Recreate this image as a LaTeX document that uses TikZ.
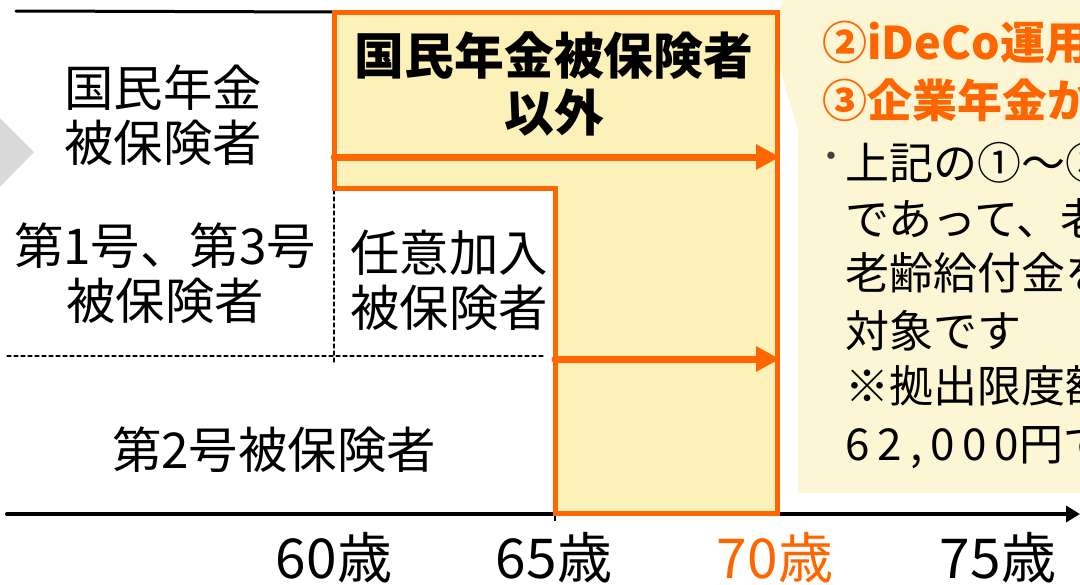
\documentclass[tikz,border=0pt]{standalone}
\usepackage{fontspec}
\setmainfont{Noto Sans CJK JP}
\usepackage{tkz-euclide}
\usetikzlibrary{arrows.meta,calc}
\definecolor{LineClr}{RGB}{255,102,0}
\definecolor{ShapeClr}{RGB}{252,241,185}
\definecolor{NoteClr}{RGB}{253,246,212}
\definecolor{MarkClr}{RGB}{217,217,217}
\definecolor{DotClr}{RGB}{64,64,64}

\begin{document}
\begin{tikzpicture}[x=.5pt,y=-.5pt,
  lbl/.style={font=\fontsize{24.7}{27.5}\selectfont,align=center,inner sep=0pt},
  agelbl/.style={font=\fontsize{27.5}{30}\selectfont,inner sep=0pt},
  notelbl/.style={font=\fontsize{22}{28}\selectfont,anchor=base west,inner sep=0pt},
  notehead/.style={notelbl,font=\fontsize{22.5}{28}\selectfont\bfseries,text=LineClr}]
\useasboundingbox (0,0) rectangle (1080,584);
\clip (0,0) rectangle (1080,584);

\tkzDefPoints{334/12/A,777/12/B,777/513/C,555/513/D,555/188/E,334/188/F}
\tkzDefPoints{334/157/G,780/157/H,555/359/I,780/359/J}
\tkzDefPoints{7/514/O,1080/514/X,16/11/T,7/356/K,545/356/L,334/190/M,334/363/N}
\tkzDefPoints{798/-60/P1,772/43/P2,798/130/P3,798/493/P4,1090/493/P5,1090/-60/P6}
\tkzDefPoints{-5/113/Q1,34/152/Q2,-5/192/Q3}

\tkzFillPolygon[fill=NoteClr](P1,P2,P3,P4,P5,P6)
\tkzFillPolygon[fill=MarkClr](Q1,Q2,Q3)
\tkzFillPolygon[fill=ShapeClr](A,B,C,D,E,F)

\tkzDrawSegments[line width=0.6pt,color=black,dash pattern=on 2pt off 1.5pt](K,L M,N)
\tkzDrawSegments[line width=1.5pt,color=black](T,A)
\tkzDrawSegments[line width=2pt,color=black,-{Triangle[length=7pt,width=8pt]}](O,X)
\draw[line width=1pt] (D) -- ++(0,8);

\tkzDrawPolygon[line width=2.5pt,color=LineClr,line join=miter](A,B,C,D,E,F)
\tkzDrawSegments[line width=3.5pt,color=LineClr,-{Triangle[length=12pt,width=12pt]}](G,H I,J)

\node[lbl] (kokumin) at (163,115) {国民年金\\被保険者};
\node[lbl] (dai13) at (165,273) {第1号、第3号\\被保険者};
\node[lbl] (nini) at (449,280) {任意加入\\被保険者};
\node[lbl] (dai2) at (274,450) {第2号被保険者};
\node[lbl,font=\fontsize{24.9}{28.5}\selectfont\bfseries] (igai) at (554,84) {国民年金被保険者\\以外};

\node[agelbl] (age60) at (334,558) {60歳};
\node[agelbl] (age65) at (554,558) {65歳};
\node[agelbl,text=LineClr] (age70) at (775,558) {70歳};
\node[agelbl] (age75) at (998,558) {75歳};

\node[notehead] (ideco) at (822,59) {②iDeCo運用};
\node[notehead] (kigyo) at (822,117) {③企業年金か};
\node[font=\fontsize{22}{28}\selectfont,text=DotClr,inner sep=0pt] (dot) at (831,162) {･};
\node[notelbl] (note1) at (845,179) {上記の①～③};
\node[notelbl] (note2) at (845,235) {であって、老};
\node[notelbl] (note3) at (845,289) {老齢給付金を};
\node[notelbl] (note4) at (845,347) {対象です};
\node[notelbl] (note5) at (845,402) {※拠出限度額};
\node[notelbl] (note6) at (845,460) {{\addfontfeature{LetterSpace=18}62,000}円で};

\end{tikzpicture}
\end{document}
